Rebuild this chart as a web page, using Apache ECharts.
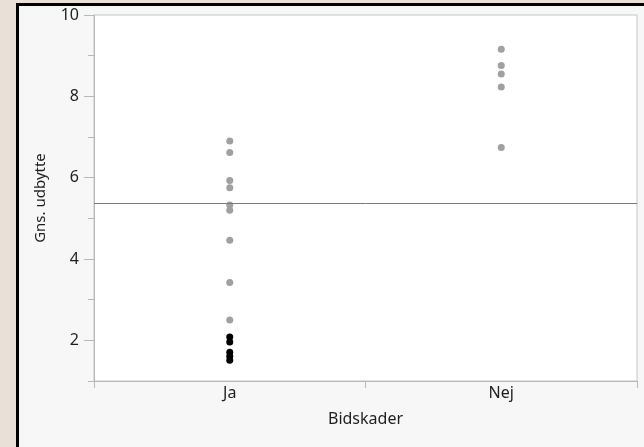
<!DOCTYPE html>
<html>
<head>
<meta charset="utf-8">
<script src="https://cdn.jsdelivr.net/npm/echarts@6/dist/echarts.min.js"></script>
<style>
html,body{margin:0;padding:0;width:644px;height:447px;overflow:hidden;background:#e9e1d8;}
#panel{position:absolute;left:16px;top:3px;width:700px;height:500px;border:3px solid #000;background:#f7f7f7;}
#chart{position:absolute;left:0;top:0;width:644px;height:447px;}
</style>
</head>
<body>
<div id="panel"></div>
<div id="chart"></div>
<script>
const categories = ['Ja', 'Nej'];
const jaGray = [6.90, 6.62, 5.93, 5.75, 5.33, 5.20, 4.46, 3.42, 2.50];
const jaBlack = [2.08, 1.96, 1.71, 1.61, 1.51];
const nejGray = [9.16, 8.76, 8.55, 8.23, 6.74];
const refLine = 5.38;
const majorTicks = [2, 4, 6, 8, 10];
const minorTicks = [1, 3, 5, 7, 9];

const font = '"Noto Sans", "Open Sans", sans-serif';
const txt = '#1e1e1e';
const chart = echarts.init(document.getElementById('chart'), null, {renderer: 'canvas'});
chart.setOption({
  backgroundColor: 'transparent',
  animation: false,
  grid: {left: 94, right: 7, top: 15, bottom: 66, show: true, backgroundColor: '#ffffff', borderColor: '#c4c4c4', borderWidth: 1},
  xAxis: {
    type: 'category', data: categories, boundaryGap: true,
    name: 'Bidskader', nameLocation: 'middle', nameGap: 30,
    nameTextStyle: {fontFamily: font, fontSize: 16, color: txt},
    axisLine: {lineStyle: {color: '#b8b8b8', width: 1}},
    axisTick: {show: true, length: 7, lineStyle: {color: '#b8b8b8'}},
    axisLabel: {fontFamily: font, fontSize: 16, color: txt, margin: 4},
    splitLine: {show: false}
  },
  yAxis: [{
    type: 'value', min: 1, max: 10, interval: 1,
    name: 'Gns. udbytte', nameLocation: 'middle', nameGap: 46,
    nameTextStyle: {fontFamily: font, fontSize: 15, color: txt},
    axisLine: {show: true, lineStyle: {color: '#b8b8b8', width: 1}},
    axisTick: {show: true, length: 10, customValues: majorTicks, lineStyle: {color: '#b8b8b8'}},
    axisLabel: {fontFamily: font, fontSize: 16, color: txt, margin: 15, customValues: majorTicks},
    splitLine: {show: false}
  }, {
    type: 'value', min: 1, max: 10, interval: 1, position: 'left',
    axisLine: {show: false},
    axisTick: {show: true, length: 6, customValues: minorTicks, lineStyle: {color: '#b8b8b8'}},
    axisLabel: {show: false},
    splitLine: {show: false}
  }],
  series: [{
    type: 'scatter', symbolSize: 7, itemStyle: {color: '#a0a0a0', opacity: 1},
    data: jaGray.map(v => [categories[0], v]),
    markLine: {silent: true, symbol: ['none', 'none'], label: {show: false},
      lineStyle: {color: '#7a7a7a', width: 1, type: 'solid', opacity: 1},
      data: [{yAxis: refLine}]}
  }, {
    type: 'scatter', symbolSize: 7, itemStyle: {color: '#000000', opacity: 1},
    data: jaBlack.map(v => [categories[0], v])
  }, {
    type: 'scatter', symbolSize: 7, itemStyle: {color: '#a0a0a0', opacity: 1},
    data: nejGray.map(v => [categories[1], v])
  }]
});
</script>
</body>
</html>
